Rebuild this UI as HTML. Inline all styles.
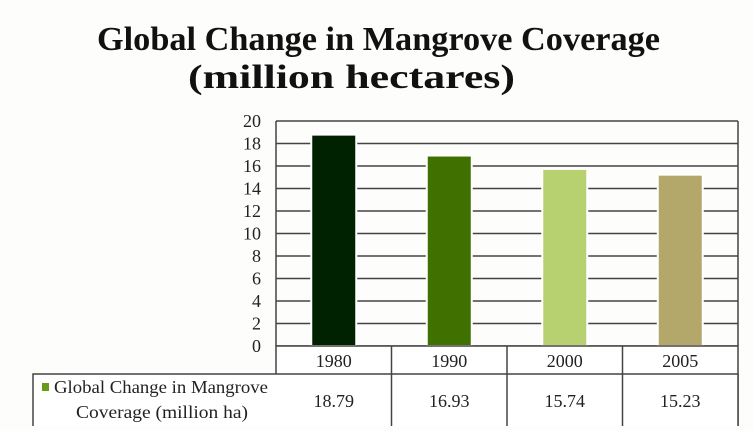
<!DOCTYPE html>
<html><head><meta charset="utf-8"><style>
body{margin:0;background:#fdfdfb;width:754px;height:426px;overflow:hidden;font-family:"Liberation Serif",serif}
</style></head><body>
<svg width="754" height="426">
<text x="97" y="50" textLength="563" lengthAdjust="spacingAndGlyphs" font-size="34" font-weight="bold" fill="#111">Global Change in Mangrove Coverage</text>
<text x="188" y="88" textLength="327" lengthAdjust="spacingAndGlyphs" font-size="34" font-weight="bold" fill="#111">(million hectares)</text>
<g id="grid"></g><g id="bars"></g><g id="table"></g>
</svg>
<script>
const categories=["1980","1990","2000","2005"];
const values=[18.79,16.93,15.74,15.23];
const valueLabels=["18.79","16.93","15.74","15.23"];
const yTicks=[0,2,4,6,8,10,12,14,16,18,20];
const colors=["#002200","#3f7000","#b7d070","#b3a86a"];
const NS="http://www.w3.org/2000/svg";
const L=276,R=738,T=121,B=346,yMax=20;
const y=v=>B-(v/yMax)*(B-T);
const cw=(R-L)/categories.length;
const x=i=>L+i*cw;
function mk(tag,attrs,parent,text){const e=document.createElementNS(NS,tag);for(const k in attrs)e.setAttribute(k,attrs[k]);if(text!==undefined)e.textContent=text;parent.appendChild(e);return e;}
const grid=document.getElementById('grid'),bars=document.getElementById('bars'),tbl=document.getElementById('table');
yTicks.forEach(t=>{
 const l=mk('line',{x1:L,x2:R,y1:y(t),y2:y(t),stroke:'#444','stroke-width':1.5},grid);
 
 
 const tx=mk('text',{x:261,y:y(t)+6,'text-anchor':'end','font-size':18,fill:'#222'},grid,String(t));
 
 
});
mk('line',{x1:L,x2:L,y1:T,y2:B,stroke:'#444','stroke-width':1.5},grid);
mk('line',{x1:R,x2:R,y1:T,y2:B,stroke:'#444','stroke-width':1.5},grid);
values.forEach((v,i)=>{
 const bw=45,bx=x(i)+cw/2-bw/2;
 const r=mk('rect',{x:bx,y:y(v),width:bw,height:B-y(v),fill:colors[i],stroke:'#fff','stroke-width':2},bars);
 
 
});
mk('rect',{x:L,y:B,width:R-L,height:426-B+2,fill:'#fff',stroke:'#444','stroke-width':1.5},tbl);
mk('rect',{x:33,y:374,width:R-33,height:54,fill:'#fff',stroke:'#444','stroke-width':1.5},tbl);
categories.forEach((c,i)=>{
 if(i>0)mk('line',{x1:x(i),x2:x(i),y1:B,y2:426,stroke:'#444','stroke-width':1.5},tbl);
 const t=mk('text',{x:x(i)+cw/2,y:367,'text-anchor':'middle','font-size':18,fill:'#222'},tbl,c);
 
 
 const vt=mk('text',{x:x(i)+cw/2,y:407,'text-anchor':'middle','font-size':18,fill:'#222'},tbl,valueLabels[i]);
 
 
});
mk('rect',{x:42,y:383,width:7,height:8,fill:'#6a9a1a'},tbl);
const l1=mk('text',{x:54,y:393,textLength:214,lengthAdjust:'spacingAndGlyphs','font-size':18,fill:'#222'},tbl,'Global Change in Mangrove');


mk('text',{x:76,y:418,textLength:172,lengthAdjust:'spacingAndGlyphs','font-size':18,fill:'#222'},tbl,'Coverage (million ha)');
</script>
</body></html>
